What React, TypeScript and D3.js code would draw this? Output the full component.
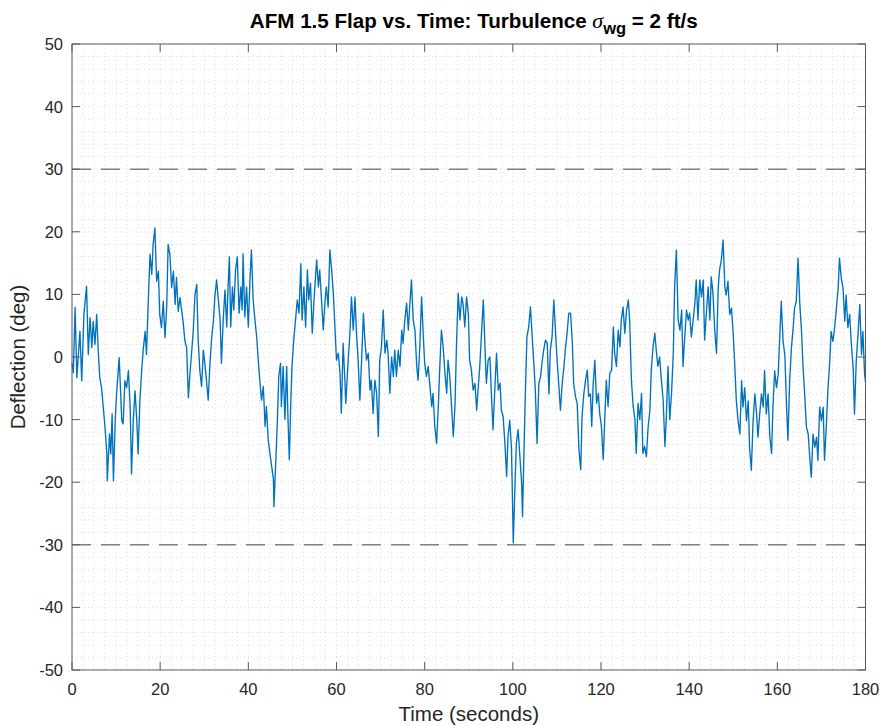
import React from "react";
import * as d3 from "d3";

const titleMain = "AFM 1.5 Flap vs. Time: Turbulence ";
const titleSymbol = "σ";
const titleSub = "wg";
const titleTail = " = 2 ft/s";
const xLabel = "Time (seconds)";
const yLabel = "Deflection (deg)";

const xTicks = [0, 20, 40, 60, 80, 100, 120, 140, 160, 180];
const yTicks = [-50, -40, -30, -20, -10, 0, 10, 20, 30, 40, 50];
const limitLines = [30, -30];

// [time (s), deflection (deg)]
const flapSeries: [number, number][] = [
  [0, -1], [0.3, -2.5], [0.7, 7.9], [1.1, -3.3], [1.8, 4.1], [2.2, -3.8], [2.7, 6.8], [3.3, 11.3],
  [3.7, 0.4], [4.1, 6.3], [4.5, 1.5], [4.8, 5.7], [5.2, 2.0], [5.6, 6.8], [6.0, 0.4], [6.3, -3.3],
  [6.7, -4.9], [7.1, -8.1], [7.5, -11.3], [7.9, -15.5], [8.0, -19.8], [8.5, -12.3], [8.8, -15.5],
  [9.1, -9.1], [9.4, -19.8], [9.8, -10.2], [10.1, -6.0], [10.7, -0.1], [11.3, -10.2], [11.6, -10.7],
  [12.0, -3.8], [12.4, -4.9], [12.8, -2.2], [13.2, -8.1], [13.5, -18.7], [13.9, -10.2], [14.3, -5.4],
  [14.7, -10.2], [15.0, -15.5], [15.4, -7.0], [15.8, -2.2], [16.2, 1.5], [16.6, 4.1], [16.9, 0.4],
  [17.3, 8.9], [17.7, 16.4], [18.1, 13.2], [18.4, 18.0], [18.8, 20.6], [19.2, 12.1], [19.6, 13.7],
  [19.9, 6.8], [20.3, 4.7], [20.7, 8.9], [21.1, 3.1], [21.5, 8.4], [21.8, 18.0], [22.2, 16.4],
  [22.6, 11.1], [23.0, 13.7], [23.4, 8.4], [23.7, 12.7], [24.1, 7.3], [24.5, 9.5], [25.2, 5.7],
  [25.6, 2.6], [26.0, 1.5], [26.4, -6.5], [26.8, -2.2], [27.1, 0.4], [27.5, 4.1], [27.9, 10.0],
  [28.3, 11.6], [28.6, 3.1], [29.0, -2.2],
  [29.4, -4.7], [29.8, 1.1], [30.2, -1.5], [30.5, -3.7], [30.9, -6.9], [31.3, -1.0], [31.7, 3.2],
  [32.1, 5.9], [32.4, 9.6], [32.8, 12.3], [33.2, 9.1], [33.6, 5.9], [33.9, -1.0], [34.3, 5.9],
  [34.7, 10.7], [35.1, 4.8], [35.4, 11.2], [35.7, 16.0], [36.0, 4.8], [36.4, 11.2], [36.7, 7.5],
  [37.1, 13.9], [37.5, 16.0], [37.9, 7.0], [38.3, 11.2], [38.6, 7.5], [38.8, 16.5], [39.2, 6.4],
  [39.6, 11.2], [40.0, 4.8], [40.4, 12.8], [40.7, 17.1], [41.1, 9.1], [41.5, 5.9], [41.9, 3.2],
  [42.2, 0.0], [42.6, -3.7], [43.0, -6.9], [43.4, -4.7], [43.8, -11.1], [44.1, -7.9], [44.5, -13.2],
  [44.9, -15.4], [45.3, -17.5], [45.7, -19.6], [45.8, -23.9], [46.3, -15.4], [46.6, -10.0],
  [46.9, -3.1], [47.3, -1.0], [47.5, -7.9], [47.9, -1.5], [48.3, -10.0], [48.7, -1.5], [49.0, -10.0],
  [49.3, -16.4], [49.6, -7.9], [49.9, -1.5], [50.3, 2.7], [50.7, 5.9], [51.1, 9.1], [51.5, 7.0],
  [51.9, 14.9], [52.2, 5.9], [52.6, 11.2], [53.0, 4.8], [53.4, 13.9], [53.7, 9.1], [54.1, 11.8],
  [54.5, 3.8], [54.9, 9.1], [55.5, 15.5], [55.9, 11.2], [56.2, 13.9], [56.6, 9.1], [57.0, 4.3],
  [57.4, 9.1], [57.7, 11.2], [58.1, 8.0], [58.5, 17.1], [58.9, 13.9], [59.3, 10.0],
  [59.6, 5.4], [60.0, -0.5], [60.4, 0.6], [60.8, -2.6], [61.1, -9.0], [61.5, 2.2], [61.9, -3.7],
  [62.1, -7.4], [62.7, 0.0], [63.0, 3.2], [63.4, 9.6], [63.8, 4.3], [64.2, 9.6], [64.5, 4.3],
  [64.9, -0.5], [65.3, -6.9], [65.7, -0.5], [66.1, 7.0], [66.4, 3.2], [66.8, -0.5], [67.2, 0.6],
  [67.6, -5.3], [67.9, -3.7], [68.3, -9.0], [68.7, -3.7], [69.1, -5.8], [69.5, -12.7], [69.8, -0.5],
  [70.2, 1.6], [70.6, 7.5], [71.0, 0.6], [71.4, 2.7], [71.7, 0.6], [72.1, -5.8], [72.5, 0.0],
  [72.9, -3.1], [73.2, 1.1], [73.6, -3.1], [74.0, 1.1], [74.4, -1.5], [74.8, 4.3], [75.1, 2.2],
  [75.5, 5.9], [75.9, 8.6], [76.3, 4.3], [76.6, 8.0], [77.0, 12.3], [77.4, 5.9], [77.8, 4.3],
  [78.2, -1.5], [78.5, -3.7], [78.9, 1.6], [79.3, 9.6], [79.7, 3.2], [80.0, -1.0], [80.4, -3.1],
  [80.8, -1.5], [81.2, -4.7], [81.6, -7.9], [81.9, -5.8], [82.3, -11.1], [82.7, -13.8], [83.1, -7.9],
  [83.4, -2.1], [83.8, 4.3], [84.2, 1.6], [84.6, -2.6], [85.0, -5.8], [85.3, -0.5], [85.7, -3.1],
  [86.1, -7.9], [86.5, -12.7], [86.9, -7.4], [87.2, 1.6], [87.6, 10.2], [88.0, 5.9], [88.4, 9.6],
  [88.7, 8.6], [89.1, 4.8], [89.5, 9.6], [89.9, 7.0], [90.2, -0.5], [90.6, -2.1], [91.0, -5.3],
  [91.4, -4.2], [91.8, -8.5], [92.1, -5.3], [92.5, -1.5], [92.9, 3.8], [93.3, 9.1], [93.7, 1.1],
  [94.0, -4.2], [94.4, -0.5], [94.8, 0.0], [95.2, -6.9], [95.5, -11.6], [95.9, -5.3], [96.3, 0.6],
  [96.7, -5.3], [97.1, -4.2], [97.4, -8.5], [97.8, -9.5], [98.2, -13.8], [98.6, -19.1], [98.9, -12.7],
  [99.3, -10.1], [99.7, -14.8], [100.1, -29.7], [100.5, -20.2], [100.8, -13.8], [101.2, -11.6],
  [101.6, -15.9], [102.0, -20.2], [102.2, -25.5], [102.5, -15.9], [102.9, -4.2], [103.2, 3.2],
  [103.6, 4.8], [104.0, 8.0], [104.4, 3.2], [104.8, -1.5], [105.1, -5.3], [105.5, -13.8],
  [105.9, -4.2], [106.3, -3.1], [106.6, -1.0], [107.0, 1.1], [107.4, 2.7], [107.8, 2.2], [108.2, -5.9],
  [108.5, 1.1], [108.9, 3.2], [109.3, 9.1], [109.7, 3.8], [110.0, 0.0], [110.4, -4.2], [110.8, -8.5],
  [111.2, -4.2], [111.6, -1.5], [111.9, 1.1], [112.3, 3.8], [112.7, 7.0], [113.1, 7.0], [113.5, 2.2],
  [113.8, -4.2], [114.2, -6.3], [114.6, -7.4], [115.0, -14.8], [115.4, -18.0], [115.7, -9.5],
  [116.1, -5.9], [116.5, -3.7], [116.9, -2.1], [117.2, -6.3], [117.6, -5.9],
  [117.9, -11.1], [118.2, -4.7], [118.6, -0.5], [119.0, -7.4], [119.4, -5.8], [119.7, -9.0],
  [120.1, -11.1], [120.5, -16.4], [120.9, -9.0], [121.2, -3.7], [121.6, -7.9], [122.0, -2.6],
  [122.4, -2.1], [122.8, 4.8], [123.1, 0.6], [123.5, -1.5], [123.9, 4.3], [124.3, 1.6], [124.6, 5.9],
  [125.0, 8.0], [125.4, 3.8], [125.8, 7.5], [126.2, 9.1], [126.5, 5.9], [126.9, -3.7], [127.3, -7.9],
  [127.7, -10.0], [128.0, -15.4], [128.4, -7.4], [128.8, -10.0], [129.2, -5.8], [129.5, -15.4],
  [129.9, -14.3], [130.3, -15.9], [130.7, -11.1], [131.1, -8.5], [131.4, -2.1], [131.8, 1.6],
  [132.2, 3.8], [132.6, 0.6], [132.9, -1.5], [133.3, 0.0], [133.7, -3.7], [134.1, -6.9],
  [134.5, -14.3], [134.8, -10.0], [135.2, -1.5], [135.6, -10.0], [136.0, -5.8], [136.4, 0.6],
  [136.7, 11.2], [137.1, 17.1], [137.5, 5.9], [137.9, 4.3], [138.3, 7.5], [138.6, -1.5], [139.0, 3.2],
  [139.4, 7.5], [139.8, 5.9], [140.1, 7.0], [140.5, 3.2], [140.9, 5.9], [141.3, 8.6], [141.6, 12.3],
  [142.0, 5.9], [142.4, 12.3], [142.8, 9.6], [143.2, 12.3], [143.5, 2.7], [143.9, 7.0], [144.3, 11.2],
  [144.7, 5.9], [145.0, 12.8], [145.4, 10.2], [145.8, 4.3], [146.2, 0.6], [146.6, 11.2], [146.9, 13.9],
  [147.3, 15.5], [147.7, 18.7], [148.1, 11.2],
  [148.4, 9.9], [148.8, 12.1], [149.2, 6.8], [149.6, 7.8], [150.0, 3.6], [150.3, -0.6], [150.7, -7.0],
  [151.1, -10.2], [151.5, -12.3], [151.9, -3.8], [152.2, -8.0], [152.6, -4.9], [153.0, -10.2],
  [153.4, -7.0], [153.7, -14.4], [154.1, -18.1], [154.5, -10.2], [154.9, -5.9], [155.3, -9.1],
  [155.6, -12.8], [156.0, -9.1], [156.4, -5.9], [156.8, -8.0], [157.1, -2.2], [157.5, -9.1],
  [157.9, -5.9], [158.3, -12.8], [158.7, -15.4], [159.0, -8.0], [159.4, -2.2], [159.8, -4.9],
  [160.2, -2.8], [160.5, 2.5], [160.9, 8.9], [161.3, 2.5], [161.7, 0.4], [162.1, -8.0], [162.4, -13.3],
  [162.8, -3.8], [163.2, 1.5], [163.6, 4.7], [163.9, 7.8], [164.3, 8.9], [164.7, 15.8], [165.1, 8.4],
  [165.5, 4.1], [165.8, -1.2], [166.2, -5.9], [166.6, -11.2], [167.0, -12.3], [167.4, -16.5],
  [167.7, -19.2], [168.1, -12.3], [168.5, -14.4], [168.9, -12.8], [169.2, -16.5], [169.6, -8.0],
  [170.0, -10.2], [170.4, -8.0], [170.7, -16.5], [171.1, -11.2], [171.5, -4.9], [171.9, -0.6],
  [172.2, 4.1], [172.6, 2.5], [173.0, 4.7], [173.4, 7.8], [173.8, 11.0], [174.1, 15.8], [174.5, 12.6],
  [174.9, 11.0], [175.3, 5.7], [175.6, 9.9], [176.0, 4.7], [176.4, 6.8], [176.8, 2.0], [177.2, -1.7],
  [177.5, -9.1], [177.9, -0.6], [178.3, 3.6], [178.7, 8.4], [179.1, 0.4], [179.4, 4.1], [179.8, -2.8],
  [180.0, -4.0],
];

const W = 886;
const H = 726;
const M = { left: 72, right: 865.5, top: 44, bottom: 670 };
const FONT = "'Liberation Sans', Arial, Helvetica, sans-serif";

export default function App() {
  const x = d3.scaleLinear().domain([0, 180]).range([M.left, M.right]);
  const y = d3.scaleLinear().domain([-50, 50]).range([M.bottom, M.top]);

  const line = d3
    .line<[number, number]>()
    .x((d) => x(d[0]))
    .y((d) => y(d[1]));

  const xMinor = d3.range(0, 180.001, 2.5);
  const yMinor = d3.range(-50, 50.001, 2);
  const tickLen = 8;
  const axisColor = "#5a5a5a";
  const textColor = "#262626";

  return (
    <div style={{ position: "absolute", left: 0, top: 0 }}>
      <svg width={W} height={H} style={{ display: "block", background: "#fff" }}>
        {/* minor grid */}
        <g stroke="#c4c4c4" strokeWidth={1} strokeDasharray="1,3" opacity={0.55}>
          {xMinor.map((t) => (
            <line key={"gx" + t} x1={x(t)} x2={x(t)} y1={M.top} y2={M.bottom} />
          ))}
          {yMinor.map((v) => (
            <line key={"gy" + v} x1={M.left} x2={M.right} y1={y(v)} y2={y(v)} />
          ))}
        </g>

        {/* limit lines */}
        {limitLines.map((v) => (
          <line
            key={"lim" + v}
            x1={M.left}
            x2={M.right}
            y1={y(v)}
            y2={y(v)}
            stroke="#808080"
            strokeWidth={1.5}
            strokeDasharray="19,10"
          />
        ))}

        {/* data */}
        <path d={line(flapSeries) || ""} fill="none" stroke="#0072BD" strokeWidth={1.35} strokeLinejoin="round" />

        {/* axes box */}
        <rect
          x={M.left}
          y={M.top}
          width={M.right - M.left}
          height={M.bottom - M.top}
          fill="none"
          stroke={axisColor}
          strokeWidth={1}
        />

        {/* ticks */}
        <g stroke={axisColor} strokeWidth={1}>
          {xTicks.map((t) => (
            <g key={"xt" + t}>
              <line x1={x(t)} x2={x(t)} y1={M.bottom} y2={M.bottom - tickLen} />
              <line x1={x(t)} x2={x(t)} y1={M.top} y2={M.top + tickLen} />
            </g>
          ))}
          {yTicks.map((v) => (
            <g key={"yt" + v}>
              <line x1={M.left} x2={M.left + tickLen} y1={y(v)} y2={y(v)} />
              <line x1={M.right} x2={M.right - tickLen} y1={y(v)} y2={y(v)} />
            </g>
          ))}
        </g>

        {/* tick labels */}
        <g fontFamily={FONT} fontSize={16.5} fill={textColor}>
          {xTicks.map((t) => (
            <text key={"xl" + t} x={x(t)} y={M.bottom + 24.5} textAnchor="middle">
              {t}
            </text>
          ))}
          {yTicks.map((v) => (
            <text key={"yl" + v} x={M.left - 9} y={y(v) + 6} textAnchor="end">
              {v}
            </text>
          ))}
        </g>

        {/* axis labels */}
        <text
          x={(M.left + M.right) / 2}
          y={721}
          textAnchor="middle"
          fontFamily={FONT}
          fontSize={20.5}
          fill={textColor}
        >
          {xLabel}
        </text>
        <text
          transform={`translate(25, ${(M.top + M.bottom) / 2}) rotate(-90)`}
          textAnchor="middle"
          fontFamily={FONT}
          fontSize={20.5}
          fill={textColor}
        >
          {yLabel}
        </text>

        {/* title */}
        <text
          x={(M.left + M.right) / 2 + 5}
          y={28}
          textAnchor="middle"
          fontFamily={FONT}
          fontSize={20.6}
          fontWeight="bold"
          fill="#000"
        >
          <tspan>{titleMain}</tspan>
          <tspan fontFamily="'Liberation Serif', 'DejaVu Serif', serif" fontStyle="italic" fontWeight="normal" fontSize={22}>
            {titleSymbol}
          </tspan>
          <tspan dy={6} fontSize={16.5}>
            {titleSub}
          </tspan>
          <tspan dy={-6}>{titleTail}</tspan>
        </text>
      </svg>
    </div>
  );
}
